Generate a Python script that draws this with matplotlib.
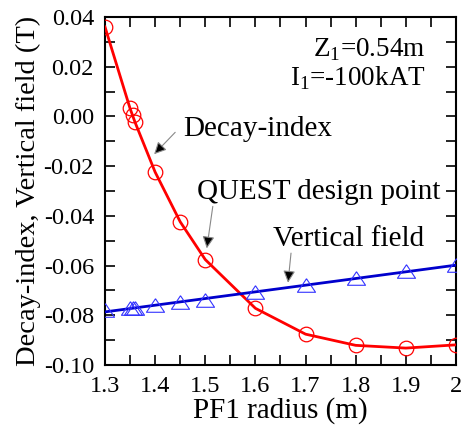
import matplotlib
matplotlib.use("Agg")
import matplotlib.pyplot as plt
import numpy as np
from matplotlib.ticker import MultipleLocator

plt.rcParams['font.family'] = ['Liberation Serif', 'DejaVu Serif']
plt.rcParams['mathtext.fontset'] = 'custom'
plt.rcParams['mathtext.rm'] = 'Liberation Serif'
plt.rcParams['axes.unicode_minus'] = False

radius_decay = [1.30, 1.35, 1.355, 1.36, 1.40, 1.45, 1.50, 1.60, 1.70, 1.80, 1.90, 2.00]
decay_index = [0.0360, 0.0032, 0.0004, -0.0024, -0.0224, -0.0424, -0.0576, -0.0772, -0.0876, -0.0921, -0.0932, -0.0919]

radius_vf = [1.30, 1.35, 1.355, 1.36, 1.40, 1.45, 1.50, 1.60, 1.70, 1.80, 1.90, 2.00]
vertical_field = [-0.0779, -0.0772, -0.0772, -0.0772, -0.0760, -0.0748, -0.0739, -0.0708, -0.0679, -0.0649, -0.0623, -0.0599]

xticks = [1.3, 1.4, 1.5, 1.6, 1.7, 1.8, 1.9, 2.0]
xticklabels = ['1.3', '1.4', '1.5', '1.6', '1.7', '1.8', '1.9', '2']
yticks = [0.04, 0.02, 0.00, -0.02, -0.04, -0.06, -0.08, -0.10]
yticklabels = ['0.04', '0.02', '0.00', '-0.02', '-0.04', '-0.06', '-0.08', '-0.10']

fig = plt.figure(figsize=(4.65, 4.3), dpi=100)
ax = fig.add_axes([0.2258, 0.1512, 0.7548, 0.8093])

# red decay-index curve
ax.plot(radius_decay, decay_index, color='#ff0000', lw=2, zorder=3)
ax.plot(radius_decay, decay_index, ls='none', marker='o', ms=10.5, mfc='none',
        mec='#ff0000', mew=0.9, zorder=4)

# blue vertical field: linear fit line + triangles
coef = np.polyfit(radius_vf, vertical_field, 1)
xl = np.array([1.3, 2.0])
ax.plot(xl, np.polyval(coef, xl), color='#0000cc', lw=2, zorder=3)
tri = [(0, 0.75), (-1, -0.75), (1, -0.75), (0, 0.75)]
ax.plot(radius_vf, vertical_field, ls='none', marker=tri, ms=13, mfc='none',
        mec='#3333ff', mew=0.8, zorder=4)

ax.set_xlim(1.3, 2.0)
ax.set_ylim(-0.10, 0.04)
ax.set_xticks(xticks)
ax.set_xticklabels(xticklabels)
ax.set_yticks(yticks)
ax.set_yticklabels(yticklabels)
ax.xaxis.set_minor_locator(MultipleLocator(0.05))
ax.yaxis.set_minor_locator(MultipleLocator(0.01))
ax.tick_params(which='both', direction='in', top=True, right=True, labelsize=17.5, width=1.2)
ax.tick_params(which='major', length=7, pad=8)
ax.tick_params(which='minor', length=7)
for s in ax.spines.values():
    s.set_linewidth(1.5)

ax.set_xlabel('PF1 radius (m)', fontsize=21, labelpad=0)
ax.set_ylabel('Decay-index, Vertical field (T)', fontsize=20.5, labelpad=2)

arrowprops = dict(arrowstyle='-|>', color='#888888', lw=0.8, mutation_scale=18,
                  shrinkA=0, shrinkB=0)

ax.annotate('', xy=(1.398, -0.0152), xytext=(1.44, -0.0064), arrowprops=arrowprops).arrow_patch.set_facecolor('black')
ax.text(1.455, -0.0052, 'Decay-index', fontsize=21, ha='left', va='center')

ax.annotate('', xy=(1.503, -0.0531), xytext=(1.515, -0.0362), arrowprops=arrowprops).arrow_patch.set_facecolor('black')
ax.text(1.483, -0.0305, 'QUEST design point', fontsize=21, ha='left', va='center')

ax.annotate('', xy=(1.665, -0.0669), xytext=(1.671, -0.0550), arrowprops=arrowprops).arrow_patch.set_facecolor('black')
ax.text(1.636, -0.0493, 'Vertical field', fontsize=21, ha='left', va='center')

ax.text(1.939, 0.0270, r'Z$_1$=0.54m', fontsize=19.5, ha='right', va='center')
ax.text(1.939, 0.0155, r'I$_1$=-100kAT', fontsize=19.5, ha='right', va='center')

fig.savefig('out.png', dpi=100)
